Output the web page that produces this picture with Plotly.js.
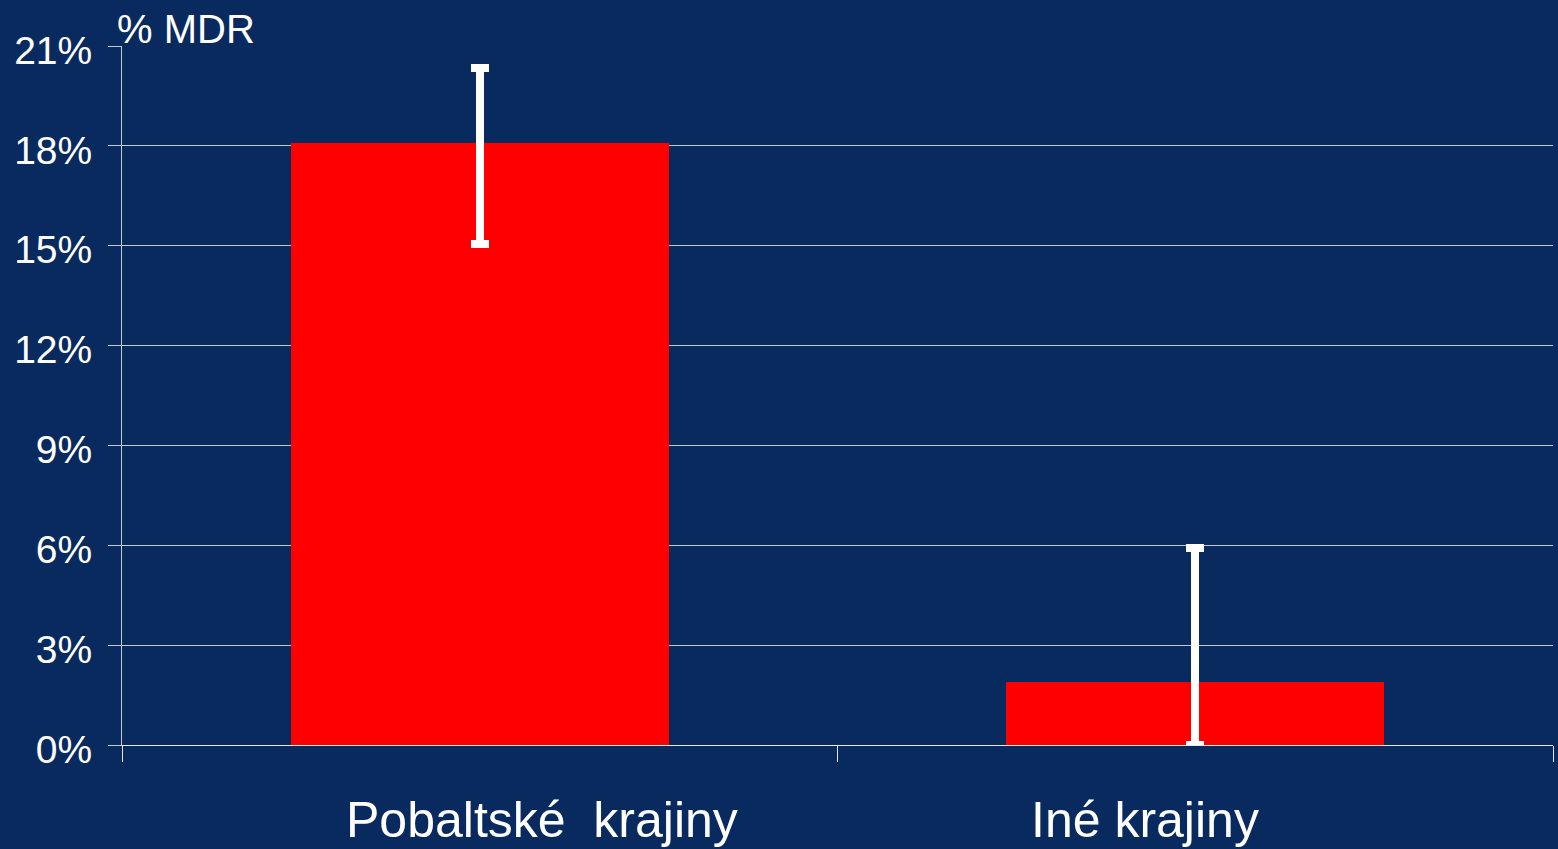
<!DOCTYPE html>
<html>
<head>
<meta charset="utf-8">
<script src="https://cdn.plot.ly/plotly-3.0.1.min.js"></script>
<style>html,body{margin:0;padding:0;background:#092a5e;}#chart{width:1558px;height:849px;}</style>
</head>
<body>
<div id="chart"></div>
<script>
const categories = ["Pobaltské  krajiny", "Iné krajiny"];
const labelText = ["Pobaltské\u00a0 krajiny", "Iné krajiny"];
const mdrPercent = [18.1, 1.89];
const errPlus = [2.25, 4.03];
const errMinus = [3.05, 1.89];
const yTickVals = [0, 3, 6, 9, 12, 15, 18, 21];
const yTickText = ["0%", "3%", "6%", "9%", "12%", "15%", "18%", "21%"];
const yTitle = "% MDR";

const BG = "#092a5e";
const GRID = "#c4c8d0";
const FONT = "Liberation Sans, Arial, sans-serif";

const trace = {
  type: "bar",
  x: categories,
  y: mdrPercent,
  width: 0.528,
  marker: {color: "#ff0000", line: {width: 0}},
  error_y: {
    type: "data",
    symmetric: false,
    array: errPlus,
    arrayminus: errMinus,
    color: "#ffffff",
    thickness: 8,
    width: 9
  },
  hoverinfo: "skip"
};

const layout = {
  width: 1558,
  height: 849,
  paper_bgcolor: BG,
  plot_bgcolor: BG,
  margin: {l: 122, r: 5, t: 46, b: 104},
  showlegend: false,
  font: {family: FONT, color: "#ffffff"},
  bargap: 0,
  xaxis: {
    type: "category",
    tickson: "boundaries",
    ticks: "outside",
    ticklen: 16,
    tickcolor: "#e8e8e8",
    tickwidth: 1,
    showticklabels: false,
    showgrid: false,
    showline: true,
    linecolor: "#e8e8e8",
    linewidth: 1,
    zeroline: false,
    range: [-0.5, 1.5]
  },
  yaxis: {
    range: [0, 21],
    tickvals: yTickVals,
    ticktext: yTickText,
    ticks: "outside",
    ticklen: 13,
    tickcolor: GRID,
    tickwidth: 1,
    tickfont: {family: FONT, size: 39, color: "#ffffff"},
    ticklabelstandoff: 8,
    ticklabelshift: 4,
    showgrid: true,
    gridcolor: GRID,
    gridwidth: 1,
    showline: true,
    linecolor: GRID,
    linewidth: 1,
    zeroline: false
  },
  annotations: [
    {
      text: yTitle, xref: "paper", yref: "paper", x: 0, y: 1,
      xanchor: "left", yanchor: "bottom", xshift: -7, yshift: -7,
      showarrow: false, font: {family: FONT, size: 40, color: "#ffffff"}
    },
    {
      text: labelText[0], xref: "x", yref: "paper", x: categories[0], y: 0,
      xanchor: "center", yanchor: "top", xshift: 62, yshift: -45,
      showarrow: false, font: {family: FONT, size: 50, color: "#ffffff"}
    },
    {
      text: labelText[1], xref: "x", yref: "paper", x: categories[1], y: 0,
      xanchor: "center", yanchor: "top", xshift: -50, yshift: -45,
      showarrow: false, font: {family: FONT, size: 50, color: "#ffffff"}
    }
  ]
};

Plotly.newPlot("chart", [trace], layout, {displayModeBar: false, staticPlot: true});
</script>
</body>
</html>
